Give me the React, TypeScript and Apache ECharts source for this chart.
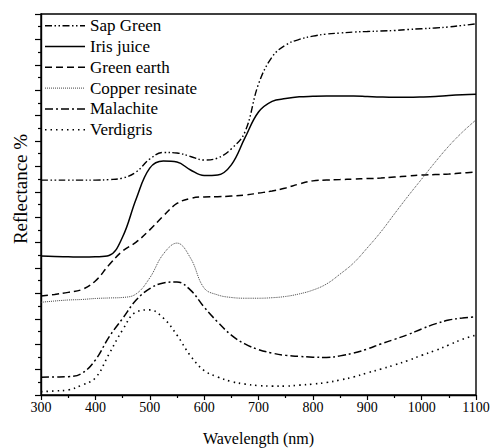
import React, { useEffect, useRef } from "react";
import * as echarts from "echarts";

// Wavelength grid (nm) shared by every spectrum
const wavelengths = [
  300, 325, 350, 375, 400, 425, 450, 475, 500, 525, 550, 575, 600, 625, 650, 675, 700,
  725, 750, 775, 800, 825, 850, 875, 900, 925, 950, 975, 1000, 1025, 1050, 1075, 1100,
];

// Reflectance spectra (offset, arbitrary units on a 0–150 scale)
const sapGreen = [
  84.6, 84.6, 84.6, 84.6, 84.6, 84.8, 85.4, 87.8, 92.9, 95.5, 95.3, 93.9, 92.5, 93.3, 96.9, 103.5, 122.4,
  133.1, 137.8, 140.0, 141.3, 142.1, 142.5, 142.9, 143.1, 143.3, 143.5, 143.9, 144.2, 144.5, 144.9, 145.5, 146.1,
];
const irisJuice = [
  54.7, 54.5, 54.4, 54.3, 54.4, 54.9, 62.2, 77.2, 89.3, 92.1, 91.7, 88.6, 86.4, 86.6, 90.6, 101.2, 111.4,
  115.6, 116.7, 117.4, 117.6, 117.7, 117.7, 117.7, 117.5, 117.3, 117.2, 117.2, 117.3, 117.5, 117.9, 118.2, 118.4,
];
const greenEarth = [
  39.0, 39.6, 40.4, 41.5, 44.9, 51.2, 56.7, 60.2, 65.0, 70.5, 75.4, 77.4, 78.0, 78.1, 78.3, 78.7, 79.5,
  80.3, 81.5, 83.1, 84.3, 84.6, 84.8, 85.0, 85.2, 85.4, 85.8, 86.2, 86.6, 86.8, 87.0, 87.4, 87.8,
];
const copperResinate = [
  36.5, 37.0, 37.4, 37.6, 38.0, 38.2, 38.4, 39.8, 46.1, 55.5, 59.8, 53.9, 42.1, 39.4, 38.4, 38.1, 38.1,
  38.3, 38.8, 39.8, 41.3, 43.7, 47.6, 52.0, 57.9, 64.2, 71.3, 78.3, 85.0, 91.7, 98.0, 103.5, 108.3,
];
const malachite = [
  7.0, 7.1, 7.2, 8.5, 13.8, 22.8, 30.1, 37.4, 41.9, 44.1, 44.5, 41.3, 34.6, 28.7, 23.6, 20.1, 17.9,
  16.5, 15.6, 15.2, 14.9, 14.8, 15.4, 16.5, 18.1, 20.1, 21.9, 23.8, 26.0, 28.0, 29.5, 30.3, 30.8,
];
const verdigris = [
  1.3, 1.6, 2.0, 3.9, 6.7, 16.1, 25.6, 32.7, 33.5, 30.3, 23.6, 15.4, 9.6, 7.1, 5.3, 4.3, 3.7,
  3.5, 3.5, 3.9, 4.3, 4.9, 5.9, 7.1, 8.7, 10.2, 11.8, 13.6, 15.6, 17.5, 19.7, 21.9, 23.6,
];

const seriesNames = ["Sap Green", "Iris juice", "Green earth", "Copper resinate", "Malachite", "Verdigris"];
const xTicks = { min: 300, max: 1100, step: 100 };
const xTitle = "Wavelength (nm)";
const yTitle = "Reflectance %";

const SERIF = "Liberation Serif";

const pair = (ys: number[]) => wavelengths.map((x, i) => [x, ys[i]]);

export default function App() {
  const ref = useRef<HTMLDivElement>(null);

  useEffect(() => {
    if (!ref.current) return;
    const chart = echarts.init(ref.current, undefined, { renderer: "svg" });

    const styles: { type: any; width: number; color: string }[] = [
      { type: [7, 2.5, 1.5, 2.5, 1.5, 2.5], width: 1.4, color: "#000" },
      { type: "solid", width: 1.5, color: "#000" },
      { type: [7, 4], width: 1.5, color: "#000" },
      { type: [1, 1], width: 1, color: "#444" },
      { type: [8, 3, 2, 3], width: 1.5, color: "#000" },
      { type: [1.5, 4], width: 1.6, color: "#000" },
    ];
    const data = [sapGreen, irisJuice, greenEarth, copperResinate, malachite, verdigris];

    chart.setOption({
      animation: false,
      backgroundColor: "#fff",
      grid: {
        left: 41,
        right: 14,
        top: 14,
        bottom: 53,
        show: true,
        borderColor: "#000",
        borderWidth: 1.4,
      },
      xAxis: {
        type: "value",
        min: xTicks.min,
        max: xTicks.max,
        interval: xTicks.step,
        axisLine: { lineStyle: { color: "#000", width: 1.4 } },
        axisTick: { show: true, inside: false, length: 5, lineStyle: { color: "#000", width: 1.2 } },
        minorTick: { show: true, splitNumber: 2, length: 3, lineStyle: { color: "#000", width: 1.2 } },
        axisLabel: { show: false },
        splitLine: { show: false },
      },
      yAxis: {
        type: "value",
        min: 0,
        max: 150,
        interval: 10,
        axisLine: { show: true, lineStyle: { color: "#000", width: 1.4 } },
        axisTick: { show: true, inside: false, length: 6, lineStyle: { color: "#000", width: 1.2 } },
        minorTick: { show: true, splitNumber: 2, length: 3, lineStyle: { color: "#000", width: 1.2 } },
        axisLabel: { show: false },
        splitLine: { show: false },
      },
      series: seriesNames.map((name, i) => ({
        name,
        type: "line",
        data: pair(data[i]),
        smooth: 0.4,
        symbol: "none",
        lineStyle: styles[i],
        itemStyle: { color: styles[i].color },
        z: 2,
      })),
    });

    // Serif tick labels, titles and legend, placed from the axis scales
    const yBottom = chart.convertToPixel({ yAxisIndex: 0 }, 0) as number;
    const xLeft = chart.convertToPixel({ xAxisIndex: 0 }, xTicks.min) as number;
    const xRight = chart.convertToPixel({ xAxisIndex: 0 }, xTicks.max) as number;
    const yTop = chart.convertToPixel({ yAxisIndex: 0 }, 150) as number;

    const tickValues: number[] = [];
    for (let v = xTicks.min; v <= xTicks.max; v += xTicks.step) tickValues.push(v);

    const tickLabels = tickValues.map((v) => ({
      type: "text",
      x: chart.convertToPixel({ xAxisIndex: 0 }, v) as number,
      y: yBottom + 12.5,
      silent: true,
      style: {
        text: String(v),
        font: `14px ${SERIF}`,
        fill: "#000",
        align: "center",
        verticalAlign: "middle",
      },
    }));

    const legendRows = seriesNames.map((name, i) => {
      const cy = yTop + 11.7 + i * 20.8;
      const s = styles[i];
      return {
        type: "group",
        silent: true,
        children: [
          {
            type: "line",
            shape: { x1: xLeft + 4, y1: cy, x2: xLeft + 44, y2: cy },
            style: {
              stroke: s.color,
              lineWidth: s.width,
              lineDash: Array.isArray(s.type) ? s.type : null,
            },
          },
          {
            type: "text",
            x: xLeft + 49,
            y: cy,
            style: {
              text: name,
              font: `17px ${SERIF}`,
              fill: "#000",
              align: "left",
              verticalAlign: "middle",
            },
          },
        ],
      };
    });

    chart.setOption({
      graphic: [
        ...tickLabels,
        ...legendRows,
        {
          type: "text",
          x: (xLeft + xRight) / 2,
          y: yBottom + 43,
          silent: true,
          style: {
            text: xTitle,
            font: `16px ${SERIF}`,
            fill: "#000",
            align: "center",
            verticalAlign: "middle",
          },
        },
        {
          type: "text",
          x: 20,
          y: 189,
          rotation: Math.PI / 2,
          silent: true,
          style: {
            text: yTitle,
            font: `19px ${SERIF}`,
            fill: "#000",
            align: "center",
            verticalAlign: "middle",
          },
        },
      ],
    });

    return () => chart.dispose();
  }, []);

  return (
    <div
      ref={ref}
      style={{ position: "fixed", left: 0, top: 0, width: 490, height: 448, background: "#fff" }}
    />
  );
}
